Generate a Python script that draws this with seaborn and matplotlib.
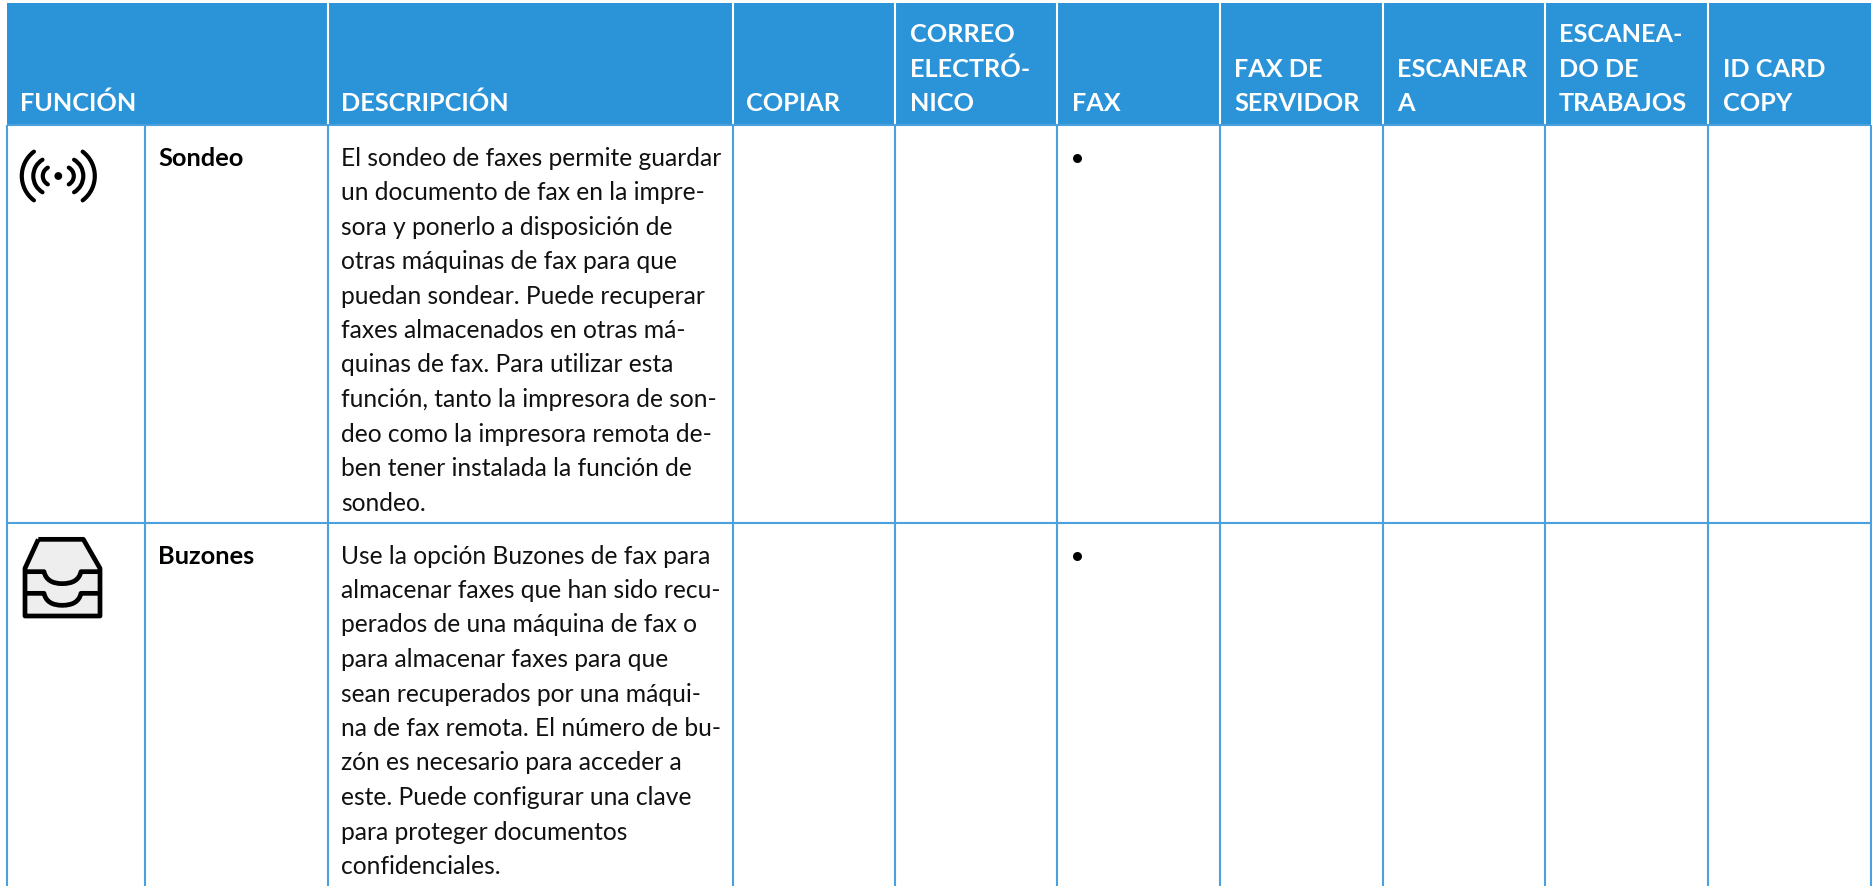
import numpy as np
import pandas as pd
import matplotlib
matplotlib.use("Agg")
import matplotlib.pyplot as plt
from matplotlib.patches import Arc, PathPatch, Rectangle, Circle
from matplotlib.path import Path
import seaborn as sns

# ---------- content ----------
header_labels = [
    "FUNCIÓN", "DESCRIPCIÓN", "COPIAR", "CORREO\nELECTRÓ-\nNICO", "FAX",
    "FAX DE\nSERVIDOR", "ESCANEAR\nA", "ESCANEA-\nDO DE\nTRABAJOS", "ID CARD\nCOPY",
]
feature_columns = ["COPIAR", "CORREO", "FAX", "FAX DE SERVIDOR", "ESCANEAR A", "ESCANEADO", "ID CARD COPY"]
row_names = ["Sondeo", "Buzones"]
row_descriptions = [
    ["El sondeo de faxes permite guardar", "un documento de fax en la impre-",
     "sora y ponerlo a disposición de", "otras máquinas de fax para que",
     "puedan sondear. Puede recuperar", "faxes almacenados en otras má-",
     "quinas de fax. Para utilizar esta", "función, tanto la impresora de son-",
     "deo como la impresora remota de-", "ben tener instalada la función de",
     "sondeo."],
    ["Use la opción Buzones de fax para", "almacenar faxes que han sido recu-",
     "perados de una máquina de fax o", "para almacenar faxes para que",
     "sean recuperados por una máqui-", "na de fax remota. El número de bu-",
     "zón es necesario para acceder a", "este. Puede configurar una clave",
     "para proteger documentos", "confidenciales."],
]
sondeo_marks = ["FAX"]
buzones_marks = ["FAX"]

# ---------- layout (pixels) ----------
W, H = 1872, 886
HEAD_TOP, HEAD_BOTTOM = 3, 125
ROW_TOPS = [125, 523]
LEFT = 7
SPLIT = 145
EDGES = [328, 733, 895, 1057, 1220, 1383, 1545, 1708, 1871]
HEAD_X = [20, 341, 746, 910, 1072, 1234, 1397, 1559, 1723]
LINE = 34.5
BLUE_HEAD = "#2b93d7"
BLUE_LINE = "#4ba0de"
FONT = "Lato"
FS_HEAD = 18.2
FS_BODY = 17.7
FS_NAME = 18.3

sns.set_theme(style="white", rc={"font.family": [FONT, "DejaVu Sans"]})
fig, ax = plt.subplots(figsize=(W / 100, H / 100), dpi=100)
ax.set_position([0, 0, 1, 1])
ax.set_xlim(0, W)
ax.set_ylim(H, 0)
ax.axis("off")
fig.patch.set_facecolor("white")

# header band
ax.add_patch(Rectangle((LEFT, HEAD_TOP), EDGES[-1] - LEFT, HEAD_BOTTOM - HEAD_TOP,
                       fc=BLUE_HEAD, ec="none", zorder=1))
for x in EDGES[:-1]:
    ax.plot([x, x], [HEAD_TOP, HEAD_BOTTOM], color="white", lw=1.5, zorder=2, solid_capstyle="butt")
for label, x in zip(header_labels, HEAD_X):
    lines = label.split("\n")
    for i, part in enumerate(lines):
        y = 111.2 - LINE * (len(lines) - 1 - i)
        ax.text(x, y, part, color="white", fontsize=FS_HEAD, fontweight="bold",
                ha="left", va="baseline", zorder=3)

# body grid
for x in [LEFT, SPLIT] + EDGES:
    ax.plot([x, x], [HEAD_BOTTOM, H], color=BLUE_LINE, lw=1.5, zorder=2, solid_capstyle="butt")
for y in ROW_TOPS:
    ax.plot([LEFT, EDGES[-1]], [y, y], color=BLUE_LINE, lw=1.5, zorder=2, solid_capstyle="butt")

# body text
for top, name, desc in zip(ROW_TOPS, row_names, row_descriptions):
    base = top + 40.5
    ax.text(158.5, base, name, color="black", fontsize=FS_NAME, fontweight="bold", ha="left", va="baseline")
    for i, line in enumerate(desc):
        ax.text(341, base + i * LINE, line, color="#111111", fontsize=FS_BODY, ha="left", va="baseline")

# availability marks
col_left = dict(zip(feature_columns, EDGES[1:-1]))
rows = [("Sondeo", c) for c in sondeo_marks] + [("Buzones", c) for c in buzones_marks]
marks = pd.DataFrame(rows, columns=["row", "column"])
marks["x"] = marks["column"].map(col_left) + 20
marks["y"] = marks["row"].map(dict(zip(row_names, ROW_TOPS))) + 33
sns.scatterplot(data=marks, x="x", y="y", ax=ax, color="black", s=42, linewidth=0,
                legend=False, zorder=4)
ax.set_xlim(0, W)
ax.set_ylim(H, 0)
ax.axis("off")

# signal icon
cx, cy = 58.3, 176
ax.add_patch(Circle((cx, cy), 3.9, fc="black", ec="none", zorder=4))
for r, half in [(30.5, 53), (19, 59), (9.5, 62)]:
    ax.add_patch(Arc((cx + 6.0, cy), 2 * r, 2 * r, theta1=-half, theta2=half,
                     color="black", lw=3.0, capstyle="round", zorder=4))
    ax.add_patch(Arc((cx - 6.0, cy), 2 * r, 2 * r, theta1=180 - half, theta2=180 + half,
                     color="black", lw=3.0, capstyle="round", zorder=4))

# tray icon
def px(xz, yz):
    return (xz / 3, 500 + yz / 3)

outline = [px(115, 118), px(250, 118), px(300, 205), px(300, 348), px(75, 348), px(75, 205), px(115, 118)]
ax.add_patch(PathPatch(Path(outline, closed=False), fc="#eeeeee", ec="black", lw=3.4,
                       joinstyle="round", zorder=4))
for y0, depth in [(215, 36), (280, 36)]:
    verts = [px(75, y0), px(132, y0), px(140, y0 + depth), px(187, y0 + depth),
             px(235, y0 + depth), px(243, y0), px(300, y0)]
    codes = [Path.MOVETO, Path.LINETO, Path.CURVE3, Path.CURVE3, Path.CURVE3, Path.CURVE3, Path.LINETO]
    ax.add_patch(PathPatch(Path(verts, codes), fc="none", ec="black", lw=3.4,
                           joinstyle="round", capstyle="butt", zorder=5))

fig.savefig("out.png", dpi=100, facecolor="white")
